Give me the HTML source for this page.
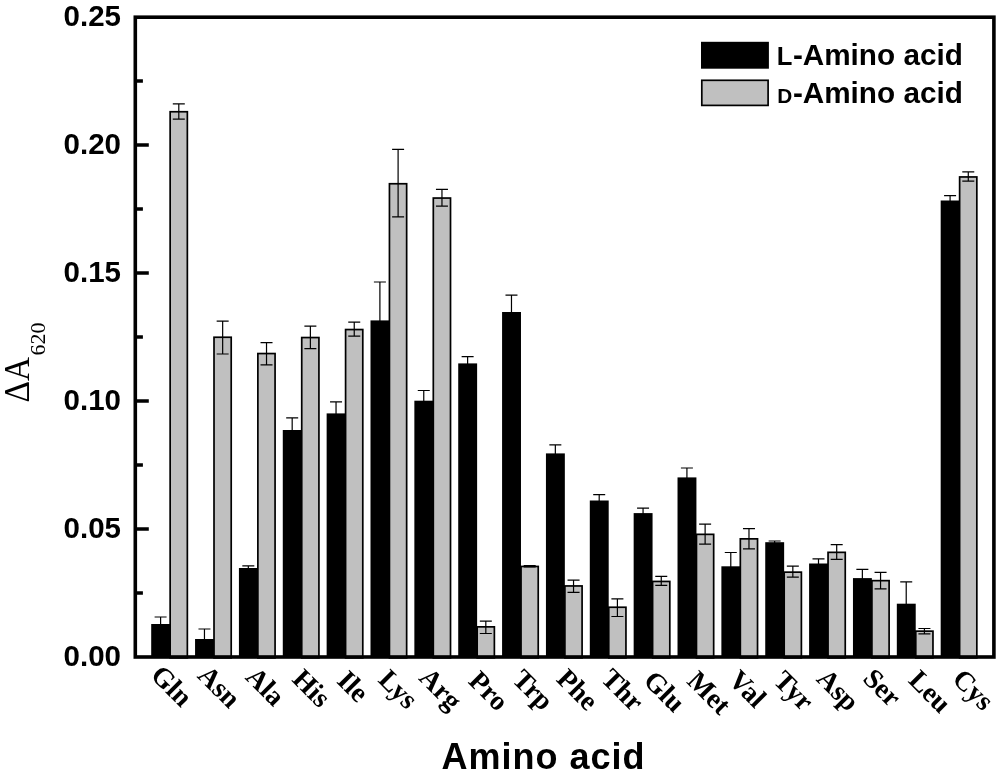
<!DOCTYPE html>
<html lang="en"><head><meta charset="utf-8"><title>Amino acid chart</title>
<style>html,body{margin:0;padding:0;background:#fff}svg{display:block}.sans{font-family:"Liberation Sans",Arial,Helvetica,sans-serif;font-weight:700;fill:#000}.serif{font-family:"Liberation Serif","Times New Roman",Times,serif;fill:#000}</style></head><body>
<svg width="1000" height="774" viewBox="0 0 1000 774">
<rect x="0" y="0" width="1000" height="774" fill="#fff"/>
<g id="bars">
<rect x="170.15" y="111.75" width="17.20" height="546.10" fill="#c0c0c0" stroke="#000" stroke-width="1.7"/>
<rect x="151.20" y="624.00" width="18.9" height="33.00" fill="#000"/>
<path d="M160.60 625.00V616.50M154.60 617.00H166.60" stroke="#000" stroke-width="1.2" fill="none"/>
<path d="M178.80 103.40V119.60M172.80 103.90H184.80M172.80 119.10H184.80" stroke="#000" stroke-width="1.2" fill="none"/>
<rect x="214.01" y="337.25" width="17.20" height="320.60" fill="#c0c0c0" stroke="#000" stroke-width="1.7"/>
<rect x="195.06" y="639.00" width="18.9" height="18.00" fill="#000"/>
<path d="M204.46 640.00V628.50M198.46 629.00H210.46" stroke="#000" stroke-width="1.2" fill="none"/>
<path d="M222.66 320.60V354.50M216.66 321.10H228.66M216.66 354.00H228.66" stroke="#000" stroke-width="1.2" fill="none"/>
<rect x="257.87" y="353.55" width="17.20" height="304.30" fill="#c0c0c0" stroke="#000" stroke-width="1.7"/>
<rect x="238.92" y="568.00" width="18.9" height="89.00" fill="#000"/>
<path d="M248.32 569.00V565.30M242.32 565.80H254.32" stroke="#000" stroke-width="1.2" fill="none"/>
<path d="M266.52 342.20V365.30M260.52 342.70H272.52M260.52 364.80H272.52" stroke="#000" stroke-width="1.2" fill="none"/>
<rect x="301.73" y="337.55" width="17.20" height="320.30" fill="#c0c0c0" stroke="#000" stroke-width="1.7"/>
<rect x="282.78" y="430.00" width="18.9" height="227.00" fill="#000"/>
<path d="M292.18 431.00V417.40M286.18 417.90H298.18" stroke="#000" stroke-width="1.2" fill="none"/>
<path d="M310.38 325.70V349.20M304.38 326.20H316.38M304.38 348.70H316.38" stroke="#000" stroke-width="1.2" fill="none"/>
<rect x="345.59" y="329.55" width="17.20" height="328.30" fill="#c0c0c0" stroke="#000" stroke-width="1.7"/>
<rect x="326.64" y="413.40" width="18.9" height="243.60" fill="#000"/>
<path d="M336.04 414.40V401.40M330.04 401.90H342.04" stroke="#000" stroke-width="1.2" fill="none"/>
<path d="M354.24 321.70V336.70M348.24 322.20H360.24M348.24 336.20H360.24" stroke="#000" stroke-width="1.2" fill="none"/>
<rect x="389.45" y="183.75" width="17.20" height="474.10" fill="#c0c0c0" stroke="#000" stroke-width="1.7"/>
<rect x="370.50" y="320.40" width="18.9" height="336.60" fill="#000"/>
<path d="M379.90 321.40V281.50M373.90 282.00H385.90" stroke="#000" stroke-width="1.2" fill="none"/>
<path d="M398.10 148.80V217.30M392.10 149.30H404.10M392.10 216.80H404.10" stroke="#000" stroke-width="1.2" fill="none"/>
<rect x="433.31" y="198.05" width="17.20" height="459.80" fill="#c0c0c0" stroke="#000" stroke-width="1.7"/>
<rect x="414.36" y="400.70" width="18.9" height="256.30" fill="#000"/>
<path d="M423.76 401.70V390.00M417.76 390.50H429.76" stroke="#000" stroke-width="1.2" fill="none"/>
<path d="M441.96 188.90V206.70M435.96 189.40H447.96M435.96 206.20H447.96" stroke="#000" stroke-width="1.2" fill="none"/>
<rect x="477.17" y="626.85" width="17.20" height="31.00" fill="#c0c0c0" stroke="#000" stroke-width="1.7"/>
<rect x="458.22" y="363.40" width="18.9" height="293.60" fill="#000"/>
<path d="M467.62 364.40V356.10M461.62 356.60H473.62" stroke="#000" stroke-width="1.2" fill="none"/>
<path d="M485.82 620.70V634.00M479.82 621.20H491.82M479.82 633.50H491.82" stroke="#000" stroke-width="1.2" fill="none"/>
<rect x="521.03" y="566.45" width="17.20" height="91.40" fill="#c0c0c0" stroke="#000" stroke-width="1.7"/>
<rect x="502.08" y="312.00" width="18.9" height="345.00" fill="#000"/>
<path d="M511.48 313.00V294.70M505.48 295.20H517.48" stroke="#000" stroke-width="1.2" fill="none"/>
<path d="M529.68 565.00V567.30M523.68 565.50H535.68M523.68 566.80H535.68" stroke="#000" stroke-width="1.2" fill="none"/>
<rect x="564.89" y="585.95" width="17.20" height="71.90" fill="#c0c0c0" stroke="#000" stroke-width="1.7"/>
<rect x="545.94" y="453.40" width="18.9" height="203.60" fill="#000"/>
<path d="M555.34 454.40V444.40M549.34 444.90H561.34" stroke="#000" stroke-width="1.2" fill="none"/>
<path d="M573.54 579.60V592.90M567.54 580.10H579.54M567.54 592.40H579.54" stroke="#000" stroke-width="1.2" fill="none"/>
<rect x="608.75" y="607.25" width="17.20" height="50.60" fill="#c0c0c0" stroke="#000" stroke-width="1.7"/>
<rect x="589.80" y="500.50" width="18.9" height="156.50" fill="#000"/>
<path d="M599.20 501.50V494.20M593.20 494.70H605.20" stroke="#000" stroke-width="1.2" fill="none"/>
<path d="M617.40 598.40V617.00M611.40 598.90H623.40M611.40 616.50H623.40" stroke="#000" stroke-width="1.2" fill="none"/>
<rect x="652.61" y="581.45" width="17.20" height="76.40" fill="#c0c0c0" stroke="#000" stroke-width="1.7"/>
<rect x="633.66" y="513.10" width="18.9" height="143.90" fill="#000"/>
<path d="M643.06 514.10V507.60M637.06 508.10H649.06" stroke="#000" stroke-width="1.2" fill="none"/>
<path d="M661.26 575.80V585.90M655.26 576.30H667.26M655.26 585.40H667.26" stroke="#000" stroke-width="1.2" fill="none"/>
<rect x="696.47" y="534.35" width="17.20" height="123.50" fill="#c0c0c0" stroke="#000" stroke-width="1.7"/>
<rect x="677.52" y="477.40" width="18.9" height="179.60" fill="#000"/>
<path d="M686.92 478.40V467.50M680.92 468.00H692.92" stroke="#000" stroke-width="1.2" fill="none"/>
<path d="M705.12 523.70V544.70M699.12 524.20H711.12M699.12 544.20H711.12" stroke="#000" stroke-width="1.2" fill="none"/>
<rect x="740.33" y="538.85" width="17.20" height="119.00" fill="#c0c0c0" stroke="#000" stroke-width="1.7"/>
<rect x="721.38" y="566.30" width="18.9" height="90.70" fill="#000"/>
<path d="M730.78 567.30V552.00M724.78 552.50H736.78" stroke="#000" stroke-width="1.2" fill="none"/>
<path d="M748.98 528.20V549.30M742.98 528.70H754.98M742.98 548.80H754.98" stroke="#000" stroke-width="1.2" fill="none"/>
<rect x="784.19" y="572.15" width="17.20" height="85.70" fill="#c0c0c0" stroke="#000" stroke-width="1.7"/>
<rect x="765.24" y="542.20" width="18.9" height="114.80" fill="#000"/>
<path d="M774.64 543.20V540.50M768.64 541.00H780.64" stroke="#000" stroke-width="1.2" fill="none"/>
<path d="M792.84 565.60V577.60M786.84 566.10H798.84M786.84 577.10H798.84" stroke="#000" stroke-width="1.2" fill="none"/>
<rect x="828.05" y="552.35" width="17.20" height="105.50" fill="#c0c0c0" stroke="#000" stroke-width="1.7"/>
<rect x="809.10" y="563.50" width="18.9" height="93.50" fill="#000"/>
<path d="M818.50 564.50V558.30M812.50 558.80H824.50" stroke="#000" stroke-width="1.2" fill="none"/>
<path d="M836.70 544.20V559.80M830.70 544.70H842.70M830.70 559.30H842.70" stroke="#000" stroke-width="1.2" fill="none"/>
<rect x="871.91" y="580.65" width="17.20" height="77.20" fill="#c0c0c0" stroke="#000" stroke-width="1.7"/>
<rect x="852.96" y="578.10" width="18.9" height="78.90" fill="#000"/>
<path d="M862.36 579.10V568.80M856.36 569.30H868.36" stroke="#000" stroke-width="1.2" fill="none"/>
<path d="M880.56 571.80V589.40M874.56 572.30H886.56M874.56 588.90H886.56" stroke="#000" stroke-width="1.2" fill="none"/>
<rect x="915.77" y="631.15" width="17.20" height="26.70" fill="#c0c0c0" stroke="#000" stroke-width="1.7"/>
<rect x="896.82" y="603.70" width="18.9" height="53.30" fill="#000"/>
<path d="M906.22 604.70V581.40M900.22 581.90H912.22" stroke="#000" stroke-width="1.2" fill="none"/>
<path d="M924.42 628.00V634.30M918.42 628.50H930.42M918.42 633.80H930.42" stroke="#000" stroke-width="1.2" fill="none"/>
<rect x="959.63" y="176.95" width="17.20" height="480.90" fill="#c0c0c0" stroke="#000" stroke-width="1.7"/>
<rect x="940.68" y="200.50" width="18.9" height="456.50" fill="#000"/>
<path d="M950.08 201.50V195.20M944.08 195.70H956.08" stroke="#000" stroke-width="1.2" fill="none"/>
<path d="M968.28 171.30V181.60M962.28 171.80H974.28M962.28 181.10H974.28" stroke="#000" stroke-width="1.2" fill="none"/>
</g>
<rect x="135.3" y="17.2" width="858.6" height="639.8" fill="none" stroke="#000" stroke-width="3.6"/>
<path d="M136 81H142.9M136 145H148.8M136 209H142.9M136 273H148.8M136 337H142.9M136 401H148.8M136 465H142.9M136 529H148.8M136 593H142.9" stroke="#000" stroke-width="3.3" fill="none"/>
<text class="sans" x="63.6" y="25.5" font-size="30.4" textLength="57.4" lengthAdjust="spacingAndGlyphs">0.25</text>
<text class="sans" x="63.6" y="153.5" font-size="30.4" textLength="57.4" lengthAdjust="spacingAndGlyphs">0.20</text>
<text class="sans" x="63.6" y="281.5" font-size="30.4" textLength="57.4" lengthAdjust="spacingAndGlyphs">0.15</text>
<text class="sans" x="63.6" y="409.5" font-size="30.4" textLength="57.4" lengthAdjust="spacingAndGlyphs">0.10</text>
<text class="sans" x="63.6" y="537.5" font-size="30.4" textLength="57.4" lengthAdjust="spacingAndGlyphs">0.05</text>
<text class="sans" x="63.6" y="665.5" font-size="30.4" textLength="57.4" lengthAdjust="spacingAndGlyphs">0.00</text>
<text class="serif" font-weight="700" font-size="27.8" text-anchor="middle" transform="translate(171.6 686.0) rotate(45)" y="9">Gln</text>
<text class="serif" font-weight="700" font-size="27.8" text-anchor="middle" transform="translate(219.1 686.8) rotate(45)" y="9">Asn</text>
<text class="serif" font-weight="700" font-size="27.8" text-anchor="middle" transform="translate(265.3 686.5) rotate(45)" y="9">Ala</text>
<text class="serif" font-weight="700" font-size="27.8" text-anchor="middle" transform="translate(311.5 688.3) rotate(45)" y="9">His</text>
<text class="serif" font-weight="700" font-size="27.8" text-anchor="middle" transform="translate(353.0 686.5) rotate(45)" y="9">Ile</text>
<text class="serif" font-weight="700" font-size="27.8" text-anchor="middle" transform="translate(398.2 689.3) rotate(45)" y="9">Lys</text>
<text class="serif" font-weight="700" font-size="27.8" text-anchor="middle" transform="translate(440.5 689.0) rotate(45)" y="9">Arg</text>
<text class="serif" font-weight="700" font-size="27.8" text-anchor="middle" transform="translate(488.7 691.0) rotate(45)" y="9">Pro</text>
<text class="serif" font-weight="700" font-size="27.8" text-anchor="middle" transform="translate(533.0 690.0) rotate(45)" y="9">Trp</text>
<text class="serif" font-weight="700" font-size="27.8" text-anchor="middle" transform="translate(577.5 689.7) rotate(45)" y="9">Phe</text>
<text class="serif" font-weight="700" font-size="27.8" text-anchor="middle" transform="translate(622.5 690.0) rotate(45)" y="9">Thr</text>
<text class="serif" font-weight="700" font-size="27.8" text-anchor="middle" transform="translate(664.5 691.5) rotate(45)" y="9">Glu</text>
<text class="serif" font-weight="700" font-size="27.8" text-anchor="middle" transform="translate(709.0 692.7) rotate(45)" y="9">Met</text>
<text class="serif" font-weight="700" font-size="27.8" text-anchor="middle" transform="translate(747.5 689.0) rotate(45)" y="9">Val</text>
<text class="serif" font-weight="700" font-size="27.8" text-anchor="middle" transform="translate(793.7 690.8) rotate(45)" y="9">Tyr</text>
<text class="serif" font-weight="700" font-size="27.8" text-anchor="middle" transform="translate(838.0 690.0) rotate(45)" y="9">Asp</text>
<text class="serif" font-weight="700" font-size="27.8" text-anchor="middle" transform="translate(882.2 687.7) rotate(45)" y="9">Ser</text>
<text class="serif" font-weight="700" font-size="27.8" text-anchor="middle" transform="translate(930.0 691.6) rotate(45)" y="9">Leu</text>
<text class="serif" font-weight="700" font-size="27.8" text-anchor="middle" transform="translate(973.1 689.8) rotate(45)" y="9">Cys</text>
<rect x="701" y="41.8" width="67.9" height="26.9" fill="#000"/>
<rect x="701.8" y="80.3" width="66.3" height="25.1" fill="#c0c0c0" stroke="#000" stroke-width="1.7"/>
<text class="sans" x="776.8" y="65.2" font-size="25.6">L</text><text class="sans" x="792.9" y="65.2" font-size="29.7">-Amino acid</text>
<text class="sans" x="777.2" y="102.6" font-size="20.8">D</text><text class="sans" x="792.9" y="102.6" font-size="29.7">-Amino acid</text>
<text class="sans" x="441.6" y="769.4" font-size="36" textLength="203" lengthAdjust="spacing">Amino acid</text>
<g transform="translate(29.1 402.4) rotate(-90)">
<text class="serif" font-size="32" transform="scale(1.04 1.13)" x="0" y="0">ΔA</text>
<text class="serif" font-size="22" x="47" y="16.1">620</text>
</g>
</svg></body></html>
